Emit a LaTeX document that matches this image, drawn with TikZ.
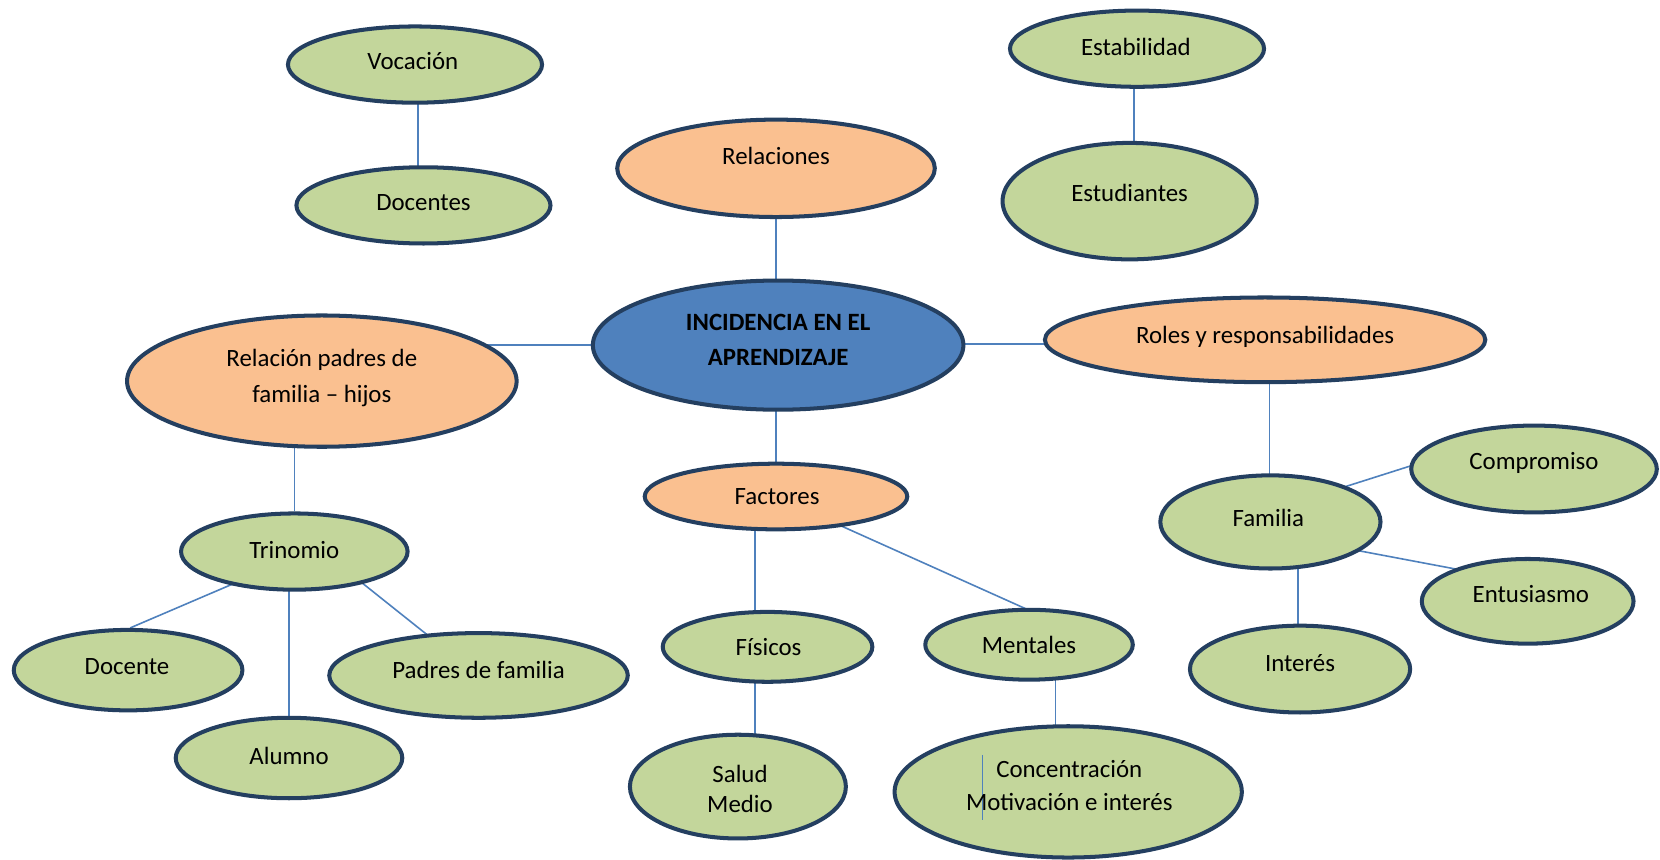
\documentclass[tikz,border=0pt]{standalone}
\usepackage{fontspec}
\setmainfont{Carlito}
\usetikzlibrary{shapes.geometric,calc,backgrounds}
\definecolor{gfill}{HTML}{C3D69B}
\definecolor{ofill}{HTML}{FAC090}
\definecolor{bfill}{HTML}{4F81BD}
\definecolor{edgec}{HTML}{243F60}
\definecolor{conn}{HTML}{4F81BD}
\pgfdeclarelayer{bottom}
\pgfsetlayers{bottom,background,main}
\begin{document}
\begin{tikzpicture}[x=0.5pt,y=-0.5pt,
  ell/.style={ellipse, draw=edgec, line width=1.9pt, inner sep=0pt},
  gr/.style={ell, fill=gfill},
  og/.style={ell, fill=ofill},
  bl/.style={ell, fill=bfill},
  sz/.style 2 args={minimum width=#1pt, minimum height=#2pt},
  txt/.style={font=\fontsize{11.75}{16}\selectfont, align=center, inner sep=0pt, text=black},
  con/.style={draw=conn, line width=0.75pt}]
\begin{pgfonlayer}{bottom}
\fill[white] (0,0) rectangle (1568,812);
\end{pgfonlayer}
\useasboundingbox (0,0) rectangle (1568,812);

% ellipses
\node[gr, sz={120}{36}] (voc) at (392,61) {};
\node[gr, sz={120}{36}] (docs) at (400,194) {};
\node[og, sz={150}{46}] (relac) at (733,159) {};
\node[gr, sz={120}{36}] (estab) at (1074,46) {};
\node[gr, sz={120}{55}] (estud) at (1067,190) {};
\node[bl, sz={175}{61}] (inc) at (735,326) {};
\node[og, sz={184}{62}] (rph) at (304,360) {};
\node[og, sz={208}{40}] (roles) at (1195,321) {};
\node[og, sz={124}{31}] (fact) at (733,469) {};
\node[gr, sz={107}{36}] (tri) at (278,521) {};
\node[gr, sz={108}{38}] (doc) at (121,633) {};
\node[gr, sz={107}{38}] (alum) at (273,716) {};
\node[gr, sz={141}{40}] (padres) at (452,638) {};
\node[gr, sz={99}{33}] (fis) at (725,611) {};
\node[gr, sz={98}{33}] (ment) at (972,609) {};
\node[gr, sz={102}{49}] (salud) at (697,743) {};
\node[gr, sz={164}{62}] (conc) at (1009,748) {};
\node[gr, sz={104}{44}] (fam) at (1200,493) {};
\node[gr, sz={116}{41}] (comp) at (1449,443) {};
\node[gr, sz={100}{40}] (ent) at (1443,568) {};
\node[gr, sz={104}{41}] (int) at (1228,632) {};

% connector anchor points
\coordinate (cvoc) at ($(voc)+(3,0)$);
\coordinate (cinc) at ($(inc)+(-2,0)$);
\coordinate (cinr) at ($(inc)+(0,-1)$);
\coordinate (cest) at ($(estab)+(-3,0)$);
\coordinate (cfac) at ($(fact)+(-20,0)$);
\coordinate (cfis) at ($(fis)+(-12,0)$);
\coordinate (cmen) at ($(ment)+(25,0)$);
\coordinate (cfam) at ($(fam)+(-1,0)$);
\coordinate (cint) at ($(int)+(-2,0)$);

% connectors
\begin{pgfonlayer}{background}
\draw[con] (cvoc) -- (cvoc |- docs);
\draw[con] (cinc) -- (cinc |- relac);
\draw[con] (cest) -- (cest |- estud);
\draw[con] (inc) -- (inc -| rph);
\draw[con] (cinr) -- (cinr -| roles);
\draw[con] (cinc) -- (cinc |- fact);
\draw[con] (tri) -- (tri |- rph);
\draw[con] ($(doc.north)+(2,0)$) -- ($(tri)+(-52,28)$);
\draw[con] (alum) -- (alum |- tri);
\draw[con] ($(tri)+(62,28)$) -- ($(padres)+(-43,-34)$);
\draw[con] (cfac) -- (cfac |- fis);
\draw[con] (cfis) -- (cfis |- salud);
\draw[con] ($(fact)+(42,19)$) -- ($(ment)+(8,-29)$);
\draw[con] (cmen) -- (cmen |- conc);
\draw[con] (cfam) -- (cfam |- roles);
\draw[con] ($(fam)+(54,-28)$) -- ($(comp)+(-110,-5)$);
\draw[con] ($(fam)+(77,26)$) -- ($(ent)+(-60,-29)$);
\draw[con] (cint) -- (cint |- fam);
\end{pgfonlayer}

% stray cursor line inside Concentracion
\draw[con] ($(conc)+(-81,-35)$) -- ($(conc)+(-81,27)$);

% texts
\node[txt] (tvoc) at ($(voc)+(-2,-3)$) {Vocación};
\node[txt] (tdocs) at ($(docs)+(0,-3)$) {Docentes};
\node[txt] (trelac) at ($(relac)+(0,-12)$) {Relaciones};
\node[txt] (testab) at ($(estab)+(-1,-2)$) {Estabilidad};
\node[txt] (testud) at ($(estud)+(0,-8)$) {Estudiantes};
\node[txt, font=\fontsize{11.75}{16.5}\selectfont\bfseries] (tinc) at ($(inc)+(0,-5)$) {INCIDENCIA EN EL\\APRENDIZAJE};
\node[txt, font=\fontsize{11.75}{17}\selectfont] (trph) at ($(rph)+(0,-3)$) {Relación padres de\\familia – hijos};
\node[txt] (troles) at ($(roles)+(0,-3)$) {Roles y responsabilidades};
\node[txt] (tfact) at ($(fact)+(1,0)$) {Factores};
\node[txt] (ttri) at ($(tri)+(0,-1)$) {Trinomio};
\node[txt] (tdoc) at ($(doc)+(-1,-3)$) {Docente};
\node[txt] (talum) at ($(alum)+(0,-2)$) {Alumno};
\node[txt] (tpadres) at ($(padres)+(0,-5)$) {Padres de familia};
\node[txt] (tfis) at ($(fis)+(1,0)$) {Físicos};
\node[txt] (tment) at ($(ment)+(0,0)$) {Mentales};
\node[txt, font=\fontsize{11.75}{14}\selectfont] (tsalud) at ($(salud)+(2,2)$) {Salud\\Medio};
\node[txt] (tconc) at ($(conc)+(1,-6)$) {Concentración\\Motivación e interés};
\node[txt] (tfam) at ($(fam)+(-2,-4)$) {Familia};
\node[txt] (tcomp) at ($(comp)+(0,-6)$) {Compromiso};
\node[txt] (tent) at ($(ent)+(3,-7)$) {Entusiasmo};
\node[txt] (tint) at ($(int)+(0,-6)$) {Interés};
\end{tikzpicture}
\end{document}
